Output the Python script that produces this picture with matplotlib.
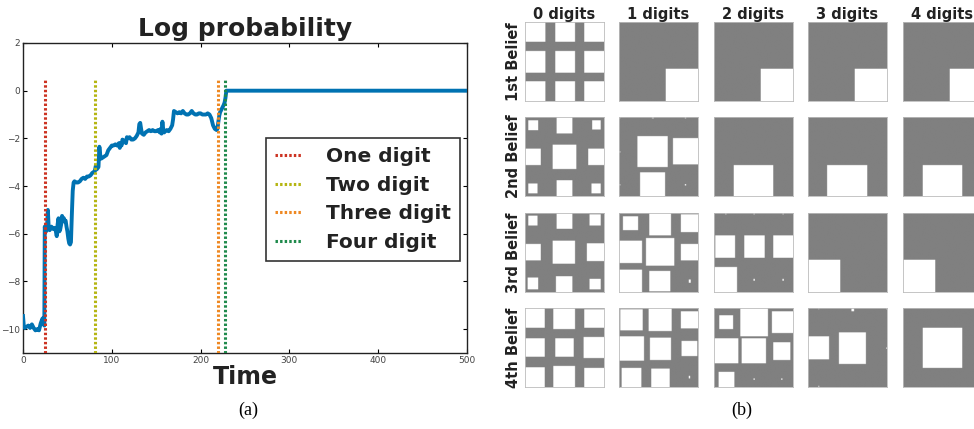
import numpy as np
import matplotlib
matplotlib.use('Agg')
import matplotlib.pyplot as plt

# ---- panel (a): log probability over time ----
time = [0, 1, 2, 4, 6, 8, 10, 12, 14, 16, 18, 20, 22, 23, 24, 24.5, 25, 26, 27, 28, 29,
        30, 32, 34, 36, 37, 38, 39, 40, 41, 42, 43, 44, 45, 46, 47, 48, 49, 50, 51, 52,
        53, 54, 55, 56, 57, 58, 60, 62, 64, 66, 68, 70, 72, 74, 76, 78, 80, 81, 82, 83,
        84, 85, 86, 87, 88, 90, 92, 94, 96, 98, 100, 102, 104, 106, 108, 109, 110, 111,
        112, 114, 116, 117, 118, 120, 122, 124, 126, 128, 130, 131, 132, 133, 134, 136,
        138, 140, 142, 144, 146, 148, 150, 152, 154, 155, 156, 157, 158, 159, 160, 162,
        164, 166, 168, 169, 170, 172, 174, 176, 178, 180, 182, 184, 186, 188, 190, 192,
        194, 196, 198, 200, 202, 204, 206, 208, 210, 212, 214, 216, 218, 219, 220, 221,
        222, 224, 226, 227, 228, 229, 500]
log_prob = [-9.45, -9.9, -9.95, -9.9, -9.85, -9.95, -9.8, -9.95, -10.05, -10.0, -10.05,
            -9.75, -9.55, -9.7, -9.85, -5.7, -5.8, -5.9, -5.75, -5.0, -5.8,
            -5.85, -5.7, -5.8, -5.75, -5.9, -6.1, -5.6, -5.35, -5.9, -5.8, -5.6, -5.25,
            -5.4, -5.35, -5.5, -5.45, -5.7, -5.9, -6.2, -6.4,
            -6.45, -6.35, -5.2, -4.2, -3.85, -3.8, -3.85, -3.85, -3.8, -3.7, -3.65, -3.7,
            -3.6, -3.6, -3.55, -3.45, -3.4, -3.35, -3.15, -3.3,
            -3.25, -3.2, -2.35, -2.7, -2.85, -2.8, -2.75, -2.7, -2.5, -2.4, -2.3, -2.3,
            -2.25, -2.3, -2.2, -2.4, -2.2, -2.3,
            -2.05, -2.1, -2.2, -1.95, -2.0, -1.95, -2.05, -2.05, -2.0, -1.9, -1.75, -1.4,
            -1.35, -1.6, -1.8, -1.85,
            -1.75, -1.7, -1.65, -1.7, -1.65, -1.7, -1.7, -1.65, -1.75, -1.6, -1.8, -1.3,
            -1.65, -1.75, -1.7, -1.65,
            -1.7, -1.6, -1.45, -1.2, -0.85, -0.9, -0.95, -0.9, -0.95, -0.85, -0.95, -1.0,
            -1.0, -0.95, -0.85, -0.95,
            -1.0, -1.0, -0.95, -0.95, -1.0, -1.0, -1.0, -0.95, -1.0, -1.15, -1.45, -1.6,
            -1.65, -1.6, -1.3, -1.05,
            -0.9, -0.75, -0.6, -0.5, -0.3, 0.0, 0.0]

event_labels = ['One digit', 'Two digit', 'Three digit', 'Four digit']
event_times = [24.5, 81, 220, 228]
event_colors = ['#cc3322', '#b5b512', '#ee8822', '#1f8a4c']

# ---- panel (b): belief images, white squares as (x0, x1, y0, y1), y from top ----
col_titles = ['0 digits', '1 digits', '2 digits', '3 digits', '4 digits']
row_titles = ['1st Belief', '2nd Belief', '3rd Belief', '4th Belief']

grid_full = [(0, .26, 0, .25), (.38, .63, 0, .25), (.75, 1, 0, .25),
             (0, .26, .37, .64), (.38, .63, .37, .64), (.75, 1, .37, .64),
             (0, .26, .75, 1), (.38, .63, .75, 1), (.75, 1, .75, 1)]
corner_br = [(.595, 1, .595, 1)]
belief1 = [grid_full, corner_br, corner_br, corner_br, corner_br]

belief2 = [
    [(.04, .17, .04, .17), (.40, .60, 0, .21), (.85, .96, .04, .16),
     (0, .20, .40, .61), (.35, .65, .35, .66), (.80, 1, .40, .61),
     (.04, .16, .84, .97), (.40, .60, .80, 1), (.84, .96, .84, .97)],
    [(.23, .62, .24, .63), (.68, 1, .27, .60), (.27, .58, .70, 1),
     (0, .015, 0, .015), (.42, .44, 0, .02), (.83, .85, 0, .02),
     (0, .015, .43, .45), (0, .015, .85, .87), (.83, .85, .85, .87)],
    [(.25, .75, .61, 1)],
    [(.245, .75, .61, 1)],
    [(.25, .75, .61, 1)],
]

belief3 = [
    [(.04, .16, .03, .16), (.40, .60, 0, .20), (.82, .96, .02, .16),
     (0, .20, .39, .60), (.35, .63, .35, .64), (.78, 1, .38, .61),
     (.03, .17, .82, .97), (.39, .60, .80, 1), (.82, .96, .83, .97)],
    [(.05, .24, .04, .22), (.38, .66, 0, .28), (.78, 1, .02, .24),
     (0, .29, .35, .63), (.34, .70, .32, .67), (.78, 1, .39, .60),
     (0, .29, .72, 1), (.38, .65, .73, .99), (.88, .91, .84, .88)],
    [(.14, .155, 0, .02), (.50, .52, 0, .02), (.87, .885, 0, .02),
     (.02, .27, .28, .57), (.38, .64, .28, .57), (.75, 1, .28, .57),
     (0, .29, .68, 1), (.50, .52, .83, .86), (.87, .885, .83, .86)],
    [(0, .405, .59, 1)],
    [(0, .405, .59, 1)],
]

belief4 = [
    [(0, .25, 0, .25), (.36, .63, 0, .27), (.75, 1, .02, .25),
     (0, .25, .38, .62), (.38, .62, .38, .62), (.74, 1, .37, .63),
     (0, .25, .75, 1), (.36, .63, .73, 1), (.75, 1, .76, 1)],
    [(.02, .30, .02, .285), (.375, .67, 0, .295), (.78, 1, .04, .26),
     (0, .32, .355, .67), (.39, .66, .375, .655), (.79, .99, .42, .61),
     (.03, .28, .755, 1), (.41, .64, .77, 1), (.88, .90, .86, .89)],
    [(.07, .24, .09, .27), (.33, .68, 0, .36), (.73, 1, .04, .32),
     (0, .31, .38, .70), (.35, .66, .38, .70), (.75, .97, .43, .655),
     (.06, .26, .81, 1), (.50, .52, .89, .91), (.85, .87, .89, .91)],
    [(0, .27, .355, .65), (.39, .73, .31, .705), (.55, .58, 0, .04),
     (.13, .14, 0, .02), (.99, 1, 0, .02), (.99, 1, .50, .52), (.13, .14, .98, 1)],
    [(.25, .75, .25, .755)],
]

beliefs = [belief1, belief2, belief3, belief4]


def make_image(rects, n=120):
    img = np.full((n, n), 0.5)
    for x0, x1, y0, y1 in rects:
        img[int(round(y0 * n)):max(int(round(y1 * n)), int(round(y0 * n)) + 1),
            int(round(x0 * n)):max(int(round(x1 * n)), int(round(x0 * n)) + 1)] = 1.0
    return img


W, H = 974, 429
fig = plt.figure(figsize=(W / 100, H / 100), dpi=100)

ax = fig.add_axes([23 / W, 1 - 353 / H, (467 - 23) / W, (353 - 43) / H])
ax.plot(time, log_prob, color='#0072b2', lw=2.8, zorder=3)
for t, c, lab in zip(event_times, event_colors, event_labels):
    ax.plot([t, t], [-11, 0.5], color=c, lw=2.2, ls=(0, (0.8, 0.7)), label=lab, zorder=4)
ax.set_xlim(0, 500)
ax.set_ylim(-11, 2)
ax.set_xticks([0, 100, 200, 300, 400, 500])
ax.set_yticks([-10, -8, -6, -4, -2, 0, 2])
ax.set_yticklabels(['\u221210', '\u22128', '\u22126', '\u22124', '\u22122', '0', '2'])
ax.tick_params(direction='in', top=True, right=True, labelsize=6.5,
               labelcolor='#444444', length=3, width=0.8, pad=2)
for s in ax.spines.values():
    s.set_linewidth(1.0)
    s.set_color('#222222')
ax.set_title('Log probability', fontsize=18, fontweight='bold', color='#222222', pad=5)
ax.set_xlabel('Time', fontsize=17, fontweight='bold', color='#222222', labelpad=0)
leg = ax.legend(loc='upper left', bbox_to_anchor=(0.548, 0.694),
                prop={'weight': 'bold', 'size': 14.5}, handlelength=1.3,
                handletextpad=1.2, labelspacing=0.48, borderpad=0.45,
                borderaxespad=0, fancybox=False, framealpha=1)
leg.get_frame().set_edgecolor('#333333')
leg.get_frame().set_linewidth(1.2)
for txt in leg.get_texts():
    txt.set_color('#222222')

col_left = [525, 619, 714, 808, 903]
row_top = [22, 117, 213, 308]
size = 79
for r, row in enumerate(beliefs):
    for c, rects in enumerate(row):
        a = fig.add_axes([col_left[c] / W, 1 - (row_top[r] + size) / H, size / W, size / H])
        a.imshow(make_image(rects), cmap='gray', vmin=0, vmax=1,
                 interpolation='bilinear', aspect='auto')
        a.set_xticks([])
        a.set_yticks([])
        for s in a.spines.values():
            s.set_color('#bbbbbb')
            s.set_linewidth(0.6)
        if r == 0:
            a.set_title(col_titles[c], fontsize=10.5, fontweight='bold',
                        color='#222222', pad=2)
        if c == 0:
            a.set_ylabel(row_titles[r], fontsize=10.5, fontweight='bold',
                         color='#222222', labelpad=3)

fig.text(248 / W, 1 - 410 / H, '(a)', ha='center', va='center',
         family='Liberation Serif', fontsize=13)
fig.text(742 / W, 1 - 410 / H, '(b)', ha='center', va='center',
         family='Liberation Serif', fontsize=13)

fig.savefig('out.png', dpi=100)
